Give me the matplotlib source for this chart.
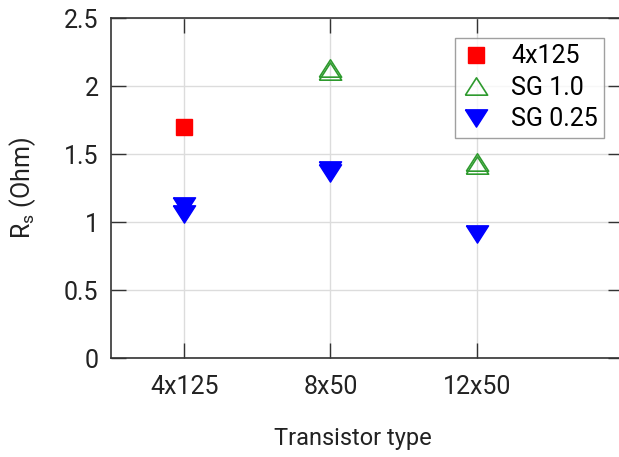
import numpy as np
import matplotlib
matplotlib.use("Agg")
from matplotlib import pyplot as plt

# data
categories = ["4x125", "8x50", "12x50"]
x_4x125 = [1]
rs_4x125 = [1.70]
x_sg10 = [2, 2, 3, 3]
rs_sg10 = [2.13, 2.11, 1.44, 1.42]
x_sg025 = [1, 1, 2, 2, 3]
rs_sg025 = [1.12, 1.06, 1.38, 1.36, 0.91]
y_ticks = [0, 0.5, 1, 1.5, 2, 2.5]
y_tick_labels = ["0", "0.5", "1", "1.5", "2", "2.5"]

plt.rcParams['font.family'] = ['Roboto', 'DejaVu Sans']

tri_up = [(-1, -0.78), (1, -0.78), (0, 0.78), (-1, -0.78)]
tri_down = [(-1, 0.78), (1, 0.78), (0, -0.78), (-1, 0.78)]

fig = plt.figure(figsize=(6.19, 4.57), dpi=100)
ax = fig.add_axes([111 / 619, 99 / 457, (623 - 111) / 619, (358 - 18) / 457])

ax.plot(x_4x125, rs_4x125, linestyle='none', marker='s', markersize=12,
        color='#ff0000', label='4x125', zorder=3)
ax.plot(x_sg10, rs_sg10, linestyle='none', marker=tri_up, markersize=16,
        markerfacecolor='none', markeredgecolor='#2e9a2e', markeredgewidth=1.2,
        label='SG 1.0', zorder=3)
ax.plot(x_sg025, rs_sg025, linestyle='none', marker=tri_down, markersize=16,
        color='#0000ff', label='SG 0.25', zorder=3)

ax.set_xlim(0.5, 4.0)
ax.set_ylim(0, 2.5)
ax.set_xticks(range(1, len(categories) + 1))
ax.set_xticklabels(categories)
ax.set_yticks(y_ticks)
ax.set_yticklabels(y_tick_labels)

ax.grid(True, color='#dcdcdc', linewidth=1.0)
ax.set_axisbelow(True)
ax.tick_params(direction='in', length=11, width=1.0, color='#333333',
               top=True, right=True, labelsize=18, labelcolor='#222222')
ax.tick_params(axis='x', pad=12)
ax.tick_params(axis='y', pad=9)
for sp in ax.spines.values():
    sp.set_color('#333333')
    sp.set_linewidth(1.2)

ax.set_xlabel('Transistor type', fontsize=17, color='#222222')
ax.xaxis.set_label_coords((353 - 111) / (623 - 111), -0.203)
ax.set_ylabel('R$_\\mathregular{s}$ (Ohm)', fontsize=18, color='#222222')
ax.yaxis.set_label_coords(-0.143, 0.5)

leg = ax.legend(loc='upper left', bbox_to_anchor=((455 - 111) / 512, 1 - 20 / 340),
                fontsize=18, frameon=True, fancybox=False, borderpad=0.25,
                handletextpad=0.8, labelspacing=0.3, handlelength=1.2,
                borderaxespad=0)
leg.get_frame().set_edgecolor('#888888')
leg.get_frame().set_linewidth(1.0)

fig.savefig('out.png', dpi=100)
